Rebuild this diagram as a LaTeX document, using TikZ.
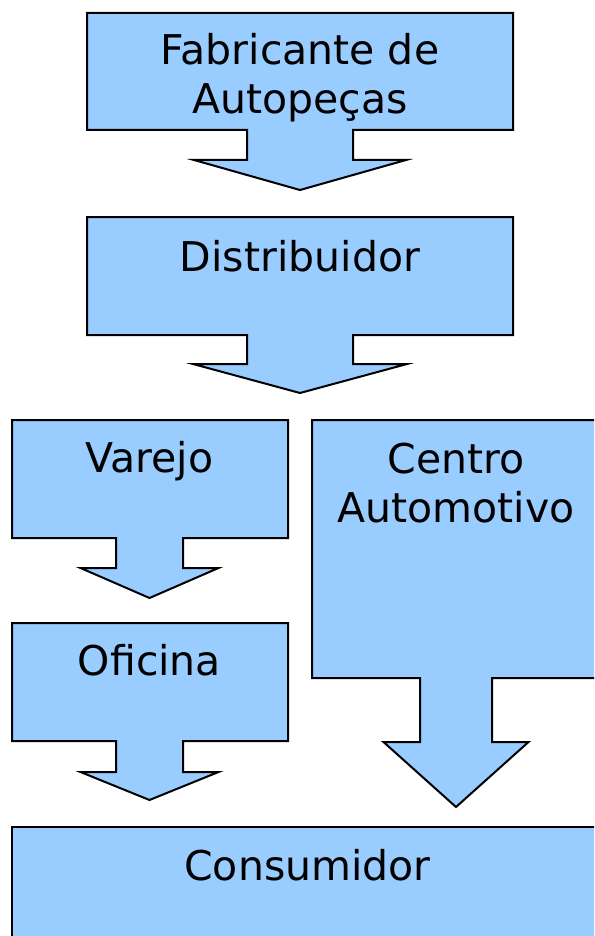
\documentclass[tikz,border=0pt]{standalone}
\usepackage{fontspec}
\setmainfont{DejaVu Sans}
\definecolor{BoxClr}{HTML}{99CCFF}

% block with a wide arrow below it:
% #1 left, #2 top, #3 right, #4 bottom, #5 centre x,
% #6 stem half width, #7 head half width, #8 stem end, #9 tip
\newcommand{\blockarrow}[9]{%
  \draw[blockshape] (#1,#2) -- (#3,#2) -- (#3,#4) -- ({#5+#6},#4)
    -- ({#5+#6},#8) -- ({#5+#7},#8) -- (#5,#9) -- ({#5-#7},#8)
    -- ({#5-#6},#8) -- ({#5-#6},#4) -- (#1,#4) -- cycle;}

\begin{document}
\begin{tikzpicture}[x=1pt,y=-1pt,
  blockshape/.style={fill=BoxClr,draw=black,line width=2pt,line join=miter},
  label/.style={anchor=base,inner sep=0pt,align=center,font=\fontsize{41}{49}\selectfont}]
\useasboundingbox (0,0) rectangle (594,936);
\clip (0,0) rectangle (594,936);

\blockarrow{87}{13}{513}{130}{300}{53}{106}{160}{190}
\blockarrow{87}{217}{513}{335}{300}{53}{107}{364}{393}
\blockarrow{12}{420}{288}{538}{149.5}{33.5}{69}{568}{598}
\blockarrow{312}{420}{620}{678}{456}{36}{72.5}{742}{807}
\blockarrow{12}{623}{288}{741}{149.5}{33.5}{69}{772}{800}
\draw[blockshape] (12,827) rectangle (620,950);

% base anchor of a two-line label sits on its last line
\node[label] (fab) at (300,114) {Fabricante de\\Autopeças};
\node[label] (dist) at (300,271) {Distribuidor};
\node[label] (varejo) at (149.5,472) {Varejo};
\node[label] (centro) at (456,522) {Centro\\Automotivo};
\node[label] (oficina) at (149.5,675) {Oficina};
\node[label] (cons) at (307.5,880) {Consumidor};
\end{tikzpicture}
\end{document}
